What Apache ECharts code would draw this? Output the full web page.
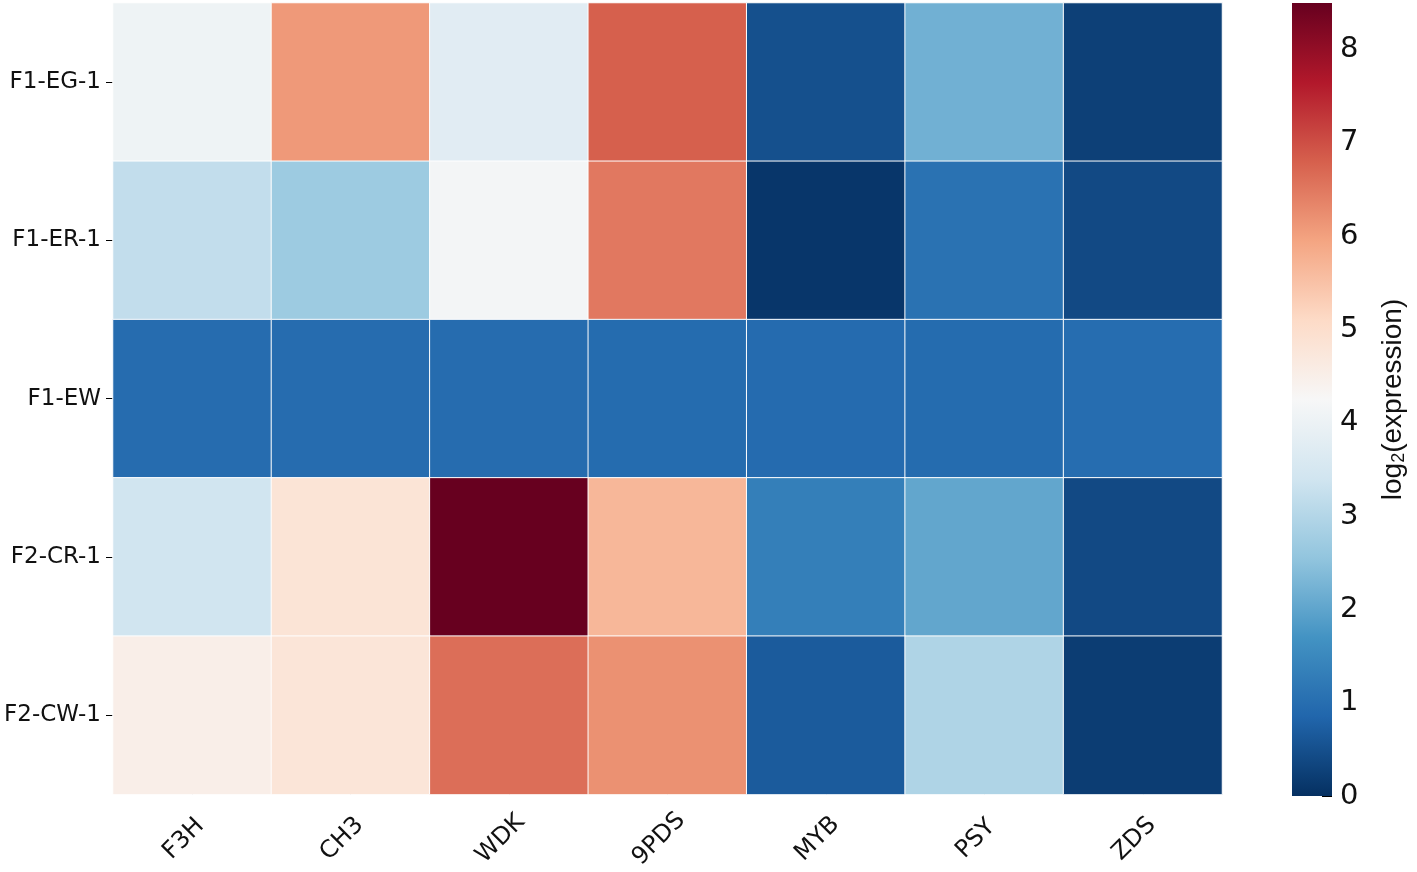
<!DOCTYPE html>
<html>
<head>
<meta charset="utf-8">
<script src="https://cdn.jsdelivr.net/npm/echarts@6/dist/echarts.min.js"></script>
<style>html,body{margin:0;padding:0;background:#fff}#c{width:1417px;height:872px}</style>
</head>
<body>
<div id="c"></div>
<script>
const genes = ['F3H', 'CH3', 'WDK', '9PDS', 'MYB', 'PSY', 'ZDS'];
const samples = ['F1-EG-1', 'F1-ER-1', 'F1-EW', 'F2-CR-1', 'F2-CW-1'];
const rowEG1 = [4.05, 6.1, 3.75, 6.8, 0.5, 2.2, 0.25];
const rowER1 = [3.2, 2.7, 4.15, 6.5, 0.1, 1.07, 0.4];
const rowEW  = [0.97, 0.97, 0.97, 0.96, 0.95, 0.96, 0.98];
const rowCR1 = [3.4, 4.83, 8.5, 5.67, 1.33, 2.03, 0.4];
const rowCW1 = [4.52, 4.8, 6.63, 6.2, 0.67, 2.94, 0.2];
const cbarMin = 0, cbarMax = 8.5;
const cbarTicks = [0, 1, 2, 3, 4, 5, 6, 7, 8];

const rows = [rowEG1, rowER1, rowEW, rowCR1, rowCW1];
const rdbu = ['#053061','#2166ac','#4393c3','#92c5de','#d1e5f0','#f7f7f7','#fddbc7','#f4a582','#d6604d','#b2182b','#67001f'];
const data = [];
rows.forEach((r, i) => r.forEach((v, j) => data.push([j, i, v])));

const font = 'DejaVu Sans';
const chart = echarts.init(document.getElementById('c'));
chart.setOption({
  animation: false,
  textStyle: { fontFamily: font },
  grid: [
    { left: 113, right: 195, top: 3, bottom: 76 },
    { left: 1292, width: 40, top: 3, bottom: 76 }
  ],
  xAxis: [
    { type: 'category', data: genes, gridIndex: 0,
      axisLine: { show: false }, splitLine: { show: false },
      axisTick: { show: true, inside: true, alignWithLabel: true, length: 8, lineStyle: { color: '#000' } },
      axisLabel: { rotate: 45, fontSize: 24, color: '#111', fontFamily: font, margin: 36,
        align: 'center', verticalAlign: 'middle', padding: [0, 24, 0, 0] }
    },
    { type: 'category', data: ['cbar'], gridIndex: 1, show: false }
  ],
  yAxis: [
    { type: 'category', data: samples, gridIndex: 0, inverse: true,
      axisLine: { show: false }, splitLine: { show: false },
      axisTick: { show: true, alignWithLabel: true, length: 7, lineStyle: { color: '#000' } },
      axisLabel: { fontSize: 23, color: '#111', fontFamily: font, margin: 12 }
    },
    { type: 'value', gridIndex: 1, min: cbarMin, max: cbarMax, interval: 1, position: 'right',
      axisLine: { show: false }, splitLine: { show: false },
      axisTick: { show: true, inside: true, length: 10, lineStyle: { color: '#000' } },
      axisLabel: { fontSize: 29, color: '#111', fontFamily: font, margin: 8,
        formatter: v => cbarTicks.includes(v) ? String(v) : '' },
      name: 'log{sub|2}(expression)', nameLocation: 'middle', nameGap: 46, nameRotate: 90,
      nameTextStyle: { fontSize: 28, color: '#111', fontFamily: 'Liberation Sans',
        rich: { sub: { fontSize: 18, verticalAlign: 'bottom', padding: [12, 0, 0, 0], fontFamily: 'Liberation Sans', color: '#111' } } }
    }
  ],
  visualMap: { show: false, min: cbarMin, max: cbarMax, seriesIndex: 0, inRange: { color: rdbu } },
  series: [
    { type: 'heatmap', xAxisIndex: 0, yAxisIndex: 0, data: data,
      itemStyle: { borderColor: '#fff', borderWidth: 1 }, emphasis: { disabled: true } },
    { type: 'bar', xAxisIndex: 1, yAxisIndex: 1, barWidth: '100%', data: [cbarMax], silent: true,
      itemStyle: { color: new echarts.graphic.LinearGradient(0, 1, 0, 0,
        rdbu.map((c, i) => ({ offset: i / (rdbu.length - 1), color: c }))) } }
  ]
});
</script>
</body>
</html>
